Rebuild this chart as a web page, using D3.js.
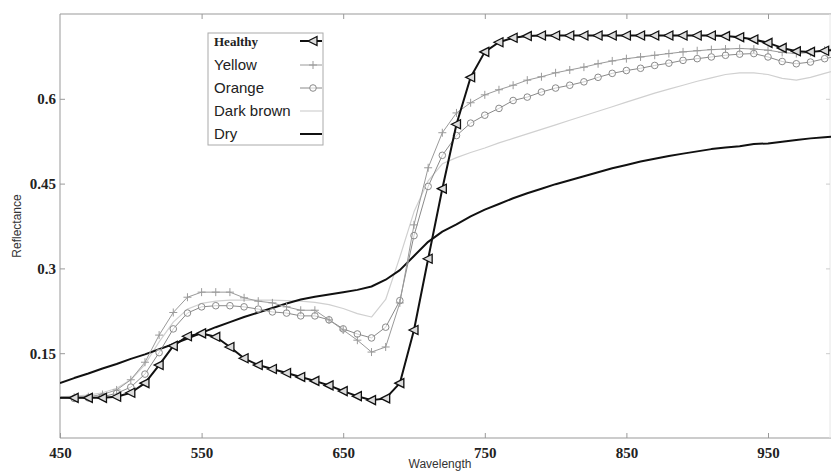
<!DOCTYPE html>
<html>
<head>
<meta charset="utf-8">
<script src="https://cdn.jsdelivr.net/npm/d3@7"></script>
<style>
  body { margin: 0; background: #fff; }
  svg { display: block; }
  .tick-label { font-family: "Liberation Serif", "Times New Roman", serif; font-weight: bold; font-size: 15px; fill: #222; }
</style>
</head>
<body>
<div id="chart"></div>
<script>
const wavelengths = d3.range(450, 1001, 10);

const healthy = [0.071, 0.071, 0.071, 0.071, 0.073, 0.080, 0.097, 0.129, 0.163, 0.180,
  0.185, 0.179, 0.161, 0.141, 0.129, 0.122, 0.115, 0.108, 0.101, 0.093,
  0.083, 0.074, 0.067, 0.070, 0.097, 0.191, 0.317, 0.441, 0.555, 0.638,
  0.683, 0.700, 0.708, 0.711, 0.712, 0.712, 0.712, 0.712, 0.712, 0.712,
  0.712, 0.712, 0.712, 0.712, 0.712, 0.712, 0.712, 0.711, 0.709, 0.705,
  0.699, 0.690, 0.684, 0.683, 0.685, 0.687];

const yellow = [0.072, 0.072, 0.073, 0.077, 0.085, 0.103, 0.134, 0.182, 0.222, 0.249,
  0.258, 0.258, 0.258, 0.248, 0.242, 0.239, 0.232, 0.226, 0.226, 0.209,
  0.191, 0.173, 0.152, 0.161, 0.239, 0.377, 0.478, 0.540, 0.575, 0.593,
  0.607, 0.616, 0.624, 0.633, 0.639, 0.646, 0.651, 0.656, 0.662, 0.667,
  0.671, 0.674, 0.677, 0.680, 0.683, 0.685, 0.687, 0.688, 0.689, 0.688,
  0.686, 0.682, 0.680, 0.682, 0.686, 0.690];

const orange = [0.070, 0.070, 0.071, 0.073, 0.079, 0.090, 0.113, 0.151, 0.193, 0.221,
  0.232, 0.234, 0.234, 0.232, 0.228, 0.223, 0.221, 0.216, 0.216, 0.209,
  0.193, 0.184, 0.177, 0.196, 0.243, 0.358, 0.445, 0.500, 0.535, 0.557,
  0.571, 0.583, 0.597, 0.603, 0.612, 0.619, 0.624, 0.630, 0.638, 0.645,
  0.650, 0.654, 0.659, 0.663, 0.668, 0.671, 0.674, 0.677, 0.679, 0.680,
  0.674, 0.666, 0.662, 0.665, 0.671, 0.676];

const darkBrown = [0.073, 0.074, 0.076, 0.080, 0.088, 0.103, 0.130, 0.170, 0.205, 0.228,
  0.238, 0.242, 0.244, 0.244, 0.244, 0.244, 0.243, 0.242, 0.240, 0.236,
  0.229, 0.220, 0.214, 0.245, 0.320, 0.400, 0.455, 0.485, 0.496, 0.505,
  0.513, 0.522, 0.530, 0.538, 0.546, 0.554, 0.562, 0.570, 0.578, 0.586,
  0.594, 0.602, 0.610, 0.617, 0.624, 0.631, 0.637, 0.643, 0.646, 0.646,
  0.643, 0.636, 0.633, 0.638, 0.645, 0.652];

const dry = [0.097, 0.106, 0.114, 0.123, 0.131, 0.140, 0.148, 0.157, 0.166, 0.176,
  0.186, 0.196, 0.205, 0.214, 0.222, 0.230, 0.238, 0.245, 0.250, 0.254,
  0.258, 0.262, 0.268, 0.280, 0.297, 0.322, 0.347, 0.365, 0.378, 0.392,
  0.404, 0.414, 0.424, 0.433, 0.441, 0.449, 0.456, 0.463, 0.470, 0.477,
  0.483, 0.489, 0.494, 0.499, 0.503, 0.507, 0.511, 0.514, 0.516, 0.520,
  0.521, 0.524, 0.527, 0.530, 0.532, 0.534];

const xTicks = [450, 550, 650, 750, 850, 950];
const yTicks = [0.15, 0.3, 0.45, 0.6];
const yTickLabels = ['0.15', '0.3', '0.45', '0.6'];

const series = [
  { name: 'Healthy', values: healthy, color: '#111', width: 2, marker: 'triangle' },
  { name: 'Yellow', values: yellow, color: '#9a9a9a', width: 1, marker: 'plus' },
  { name: 'Orange', values: orange, color: '#8a8a8a', width: 1, marker: 'circle' },
  { name: 'Dark brown', values: darkBrown, color: '#d0d0d0', width: 1.2, marker: null },
  { name: 'Dry', values: dry, color: '#111', width: 2, marker: null }
];

const W = 831, H = 471;
const plotLeft = 60, plotTop = 14, plotBottom = 438, plotRight = 830;

const svg = d3.select('#chart').append('svg')
  .attr('width', W)
  .attr('height', H);

const x = d3.scaleLinear().domain([450, 1000]).range([plotLeft, plotLeft + 550 * 1.416]);
const y = d3.scaleLinear().domain([0, 0.75]).range([plotBottom, plotTop]);

svg.append('clipPath').attr('id', 'plot-clip')
  .append('rect')
  .attr('x', plotLeft).attr('y', plotTop)
  .attr('width', W - plotLeft).attr('height', plotBottom - plotTop);

// frame
const frame = svg.append('g').attr('stroke', '#999').attr('fill', 'none');
frame.append('line').attr('x1', plotLeft).attr('x2', W).attr('y1', plotTop).attr('y2', plotTop);
frame.append('line').attr('x1', plotLeft).attr('x2', W).attr('y1', plotBottom).attr('y2', plotBottom);
frame.append('line').attr('x1', plotLeft).attr('x2', plotLeft).attr('y1', plotTop).attr('y2', plotBottom);
frame.append('line').attr('x1', plotRight).attr('x2', plotRight).attr('y1', plotTop).attr('y2', plotBottom)
  .attr('stroke', '#e6e6e6');

// axes via d3 with inward ticks
const xAxis = svg.append('g')
  .attr('transform', `translate(0,${plotBottom})`)
  .call(d3.axisBottom(x).tickValues(xTicks).tickSize(-5).tickPadding(9).tickFormat(d3.format('d')));
xAxis.select('.domain').remove();
xAxis.selectAll('line').attr('stroke', '#999');
xAxis.selectAll('text').attr('class', 'tick-label');

const xTop = svg.append('g')
  .attr('transform', `translate(0,${plotTop})`)
  .call(d3.axisTop(x).tickValues(xTicks.slice(1)).tickSize(-5).tickFormat(''));
xTop.select('.domain').remove();
xTop.selectAll('line').attr('stroke', '#999');

const yAxis = svg.append('g')
  .attr('transform', `translate(${plotLeft},0)`)
  .call(d3.axisLeft(y).tickValues(yTicks).tickSize(-5).tickPadding(4)
    .tickFormat((d, i) => yTickLabels[i]));
yAxis.select('.domain').remove();
yAxis.selectAll('line').attr('stroke', '#999');
yAxis.selectAll('text').attr('class', 'tick-label');

const yRight = svg.append('g')
  .attr('transform', `translate(${plotRight},0)`)
  .call(d3.axisRight(y).tickValues(yTicks).tickSize(-4).tickFormat(''));
yRight.select('.domain').remove();
yRight.selectAll('line').attr('stroke', '#ccc');

svg.append('text')
  .attr('x', 440).attr('y', 468)
  .attr('text-anchor', 'middle')
  .attr('font-family', 'Arial, "Liberation Sans", sans-serif')
  .attr('font-size', 12)
  .attr('fill', '#333')
  .text('Wavelength');

svg.append('text')
  .attr('transform', 'translate(21,226) rotate(-90)')
  .attr('text-anchor', 'middle')
  .attr('font-family', 'Arial, "Liberation Sans", sans-serif')
  .attr('font-size', 12)
  .attr('fill', '#333')
  .text('Reflectance');

// markers
const triPath = 'M-5,0 L4,-4.5 L4,4.5 Z';
function drawMarker(g, type, color) {
  if (type === 'triangle') {
    g.append('path').attr('d', triPath)
      .attr('fill', '#ddd').attr('stroke', '#111').attr('stroke-width', 1.3);
  } else if (type === 'plus') {
    g.append('path').attr('d', 'M-4,0 H4 M0,-4 V4')
      .attr('stroke', color).attr('stroke-width', 1);
  } else if (type === 'circle') {
    g.append('circle').attr('r', 3.3)
      .attr('fill', '#fff').attr('fill-opacity', 0.6)
      .attr('stroke', color).attr('stroke-width', 1);
  }
}

const plot = svg.append('g').attr('clip-path', 'url(#plot-clip)');
const line = d3.line().x(d => x(d[0])).y(d => y(d[1]));

const drawOrder = [3, 4, 2, 1, 0];
drawOrder.forEach(i => {
  const s = series[i];
  const pts = wavelengths.map((w, j) => [w, s.values[j]]);
  plot.append('path')
    .datum(pts)
    .attr('d', line)
    .attr('fill', 'none')
    .attr('stroke', s.color)
    .attr('stroke-width', s.width)
    .attr('stroke-linejoin', 'round');
  if (s.marker) {
    plot.selectAll(null)
      .data(pts.filter(p => p[0] > 450))
      .join('g')
      .attr('transform', p => `translate(${x(p[0])},${y(p[1])})`)
      .each(function () { drawMarker(d3.select(this), s.marker, s.color); });
  }
});

// legend
const legend = svg.append('g');
const lgLeft = 208, lgTop = 33, lgRight = 323, lgBottom = 145;
legend.append('rect')
  .attr('x', lgLeft).attr('y', lgTop)
  .attr('width', lgRight - lgLeft).attr('height', lgBottom - lgTop)
  .attr('fill', '#fff').attr('stroke', '#aaa').attr('stroke-width', 1);

const rowY = [41, 65, 88, 111, 134];
series.forEach((s, i) => {
  const ry = rowY[i];
  const t = legend.append('text')
    .attr('x', lgLeft + 6).attr('y', ry)
    .attr('dy', '0.35em')
    .attr('fill', '#222')
    .text(s.name);
  if (i === 0) {
    t.attr('font-family', '"Liberation Serif", "Times New Roman", serif')
      .attr('font-weight', 'bold').attr('font-size', 13);
  } else {
    t.attr('font-family', 'Arial, "Liberation Sans", sans-serif').attr('font-size', 15);
  }
  legend.append('line')
    .attr('x1', 300).attr('x2', 322)
    .attr('y1', ry).attr('y2', ry)
    .attr('stroke', s.color).attr('stroke-width', s.width);
  if (s.marker) {
    const mg = legend.append('g').attr('transform', `translate(313,${ry})`);
    drawMarker(mg, s.marker, s.color);
  }
});
</script>
</body>
</html>
